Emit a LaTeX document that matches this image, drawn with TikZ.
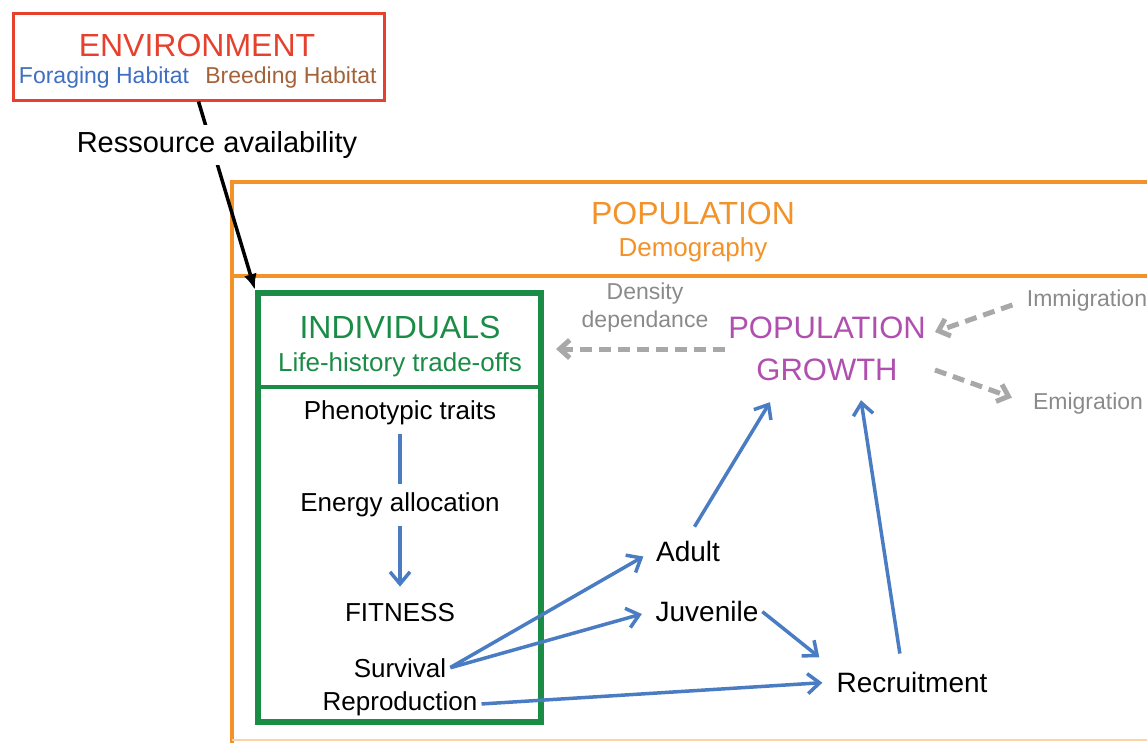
\documentclass[tikz,border=0pt]{standalone}
\usepackage{fontspec}
\setmainfont{Liberation Sans}
\usetikzlibrary{arrows.meta}
\definecolor{envred}{HTML}{E6412E}
\definecolor{forblue}{HTML}{3F6EC2}
\definecolor{brdbrown}{HTML}{A3633A}
\definecolor{poporange}{HTML}{F39229}
\definecolor{indgreen}{HTML}{1A8C46}
\definecolor{growpink}{HTML}{B04FAF}
\definecolor{dgray}{HTML}{8A8A8A}
\definecolor{lgray}{HTML}{A8A8A8}
\definecolor{arrblue}{HTML}{4A7CC4}

\begin{document}
\begin{tikzpicture}[x=1pt,y=-1pt,inner sep=3pt,
        fs/.style={font=\fontsize{#1}{#1}\selectfont},
        bl/.style={arrblue, line width=3.5pt},
        ba/.style={bl, shorten <=1pt, shorten >=11pt,
                        -{Straight Barb[length=12pt,width=20pt]}},
        gd/.style={lgray, line width=5pt, dash pattern=on 12pt off 7pt,
                        -{Straight Barb[length=10pt,width=18pt]}}]
    \clip (0,0) rectangle (1147,742);
    \node[draw=envred, line width=3pt, minimum width=371, minimum height=87,
        inner sep=0pt] (env) at (198.5,56.5) {};
    \node[fs=32, envred] (envt) at (197,45) {ENVIRONMENT};
    \node[fs=23, forblue] (forage) at (104,78) {Foraging Habitat};
    \node[fs=23, brdbrown] (breed) at (291,78) {Breeding Habitat};

    \draw[poporange, line width=4pt]
        (1160,182) -- (232,182) -- (232,760)
        (232,276) -- (1160,276);
    \draw[poporange!40, line width=2pt] (232,740) -- (1160,740);
    \node[fs=32, poporange] (pop) at (693,213) {POPULATION};
    \node[fs=26, poporange] (demo) at (693,250) {Demography};

    \node[draw=indgreen, line width=6pt, minimum width=283, minimum height=429,
        inner sep=0pt] (indiv) at (399.5,507.5) {};
    \draw[indgreen, line width=4pt] (indiv.west |- 0,387) -- (indiv.east |- 0,387);
    \node[fs=32, indgreen] (indt) at (400,327) {INDIVIDUALS};
    \node[fs=26, indgreen] (lht) at (400,365) {Life-history trade-offs};
    \node[fs=26] (pheno) at (400,413) {Phenotypic traits};
    \node[fs=26] (energy) at (400,505) {Energy allocation};
    \node[fs=26] (fit) at (400,613) {FITNESS};
    \node[fs=26] (surv) at (400,668) {Survival};
    \node[fs=26] (repro) at (400,704) {Reproduction};

    \node[dgray, align=center, font=\fontsize{23}{28}\selectfont]
        (dens) at (645,308) {Density\\dependance};
    \node[growpink, align=center, font=\fontsize{31}{42}\selectfont]
        (growth) at (827,349) {POPULATION\\GROWTH};
    \node[fs=23, dgray] (immi) at (1087,301) {Immigration};
    \node[fs=23, dgray] (emi) at (1088,404) {Emigration};
    \node[fs=28] (adult) at (688,551) {Adult};
    \node[fs=28] (juv) at (707,611) {Juvenile};
    \node[fs=28] (recr) at (912,682) {Recruitment};

    \draw[line width=3.5pt, -{Latex[length=16pt,width=13pt]}]
        (env.south) -- (indiv.north west);
    \node[fs=29, fill=white, inner sep=6pt] (res) at (217,145) {Ressource availability};

    \draw[bl, shorten <=6pt, shorten >=6pt] (pheno) -- (energy);
    \draw[ba, shorten <=6pt, shorten >=14pt] (energy) -- (fit);
    \draw[ba] (surv.east) -- (adult.west);
    \draw[ba] (surv.east) -- (juv.west);
    \draw[ba] (repro.east) -- (recr.west);
    \draw[ba, shorten >=18pt] (juv.east) -- (recr.north west);
    \draw[ba, shorten >=0pt] ([xshift=6pt,yshift=10pt]adult.north)
        -- ([xshift=-57pt,yshift=-18pt]growth.south);
    \draw[ba, shorten >=0pt] ([xshift=-12pt,yshift=14pt]recr.north)
        -- ([xshift=34pt,yshift=-16pt]growth.south);

    \draw[gd, shorten >=12pt] (growth.west) -- (growth.west -| indiv.east);
    \draw[gd, shorten <=12pt] (immi.west) -- ([xshift=6pt,yshift=17pt]growth.east);
    \draw[gd, shorten >=19pt] ([xshift=6pt,yshift=-21pt]growth.east) -- (emi.west);
\end{tikzpicture}
\end{document}
